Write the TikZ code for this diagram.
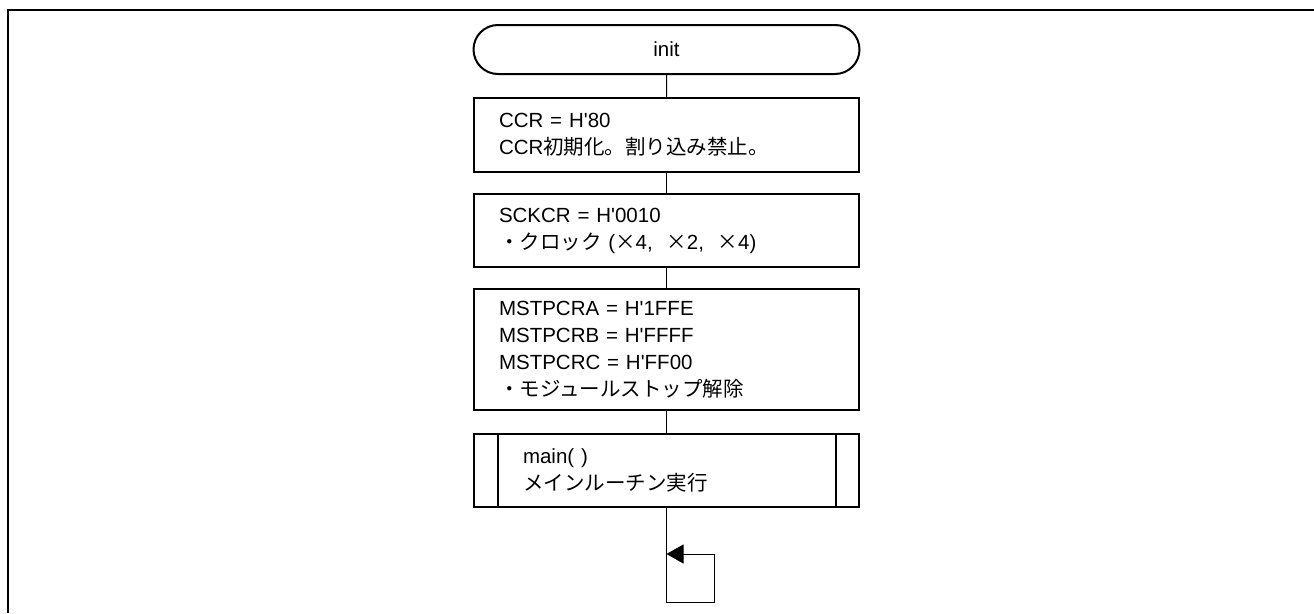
\documentclass[tikz,border=0pt]{standalone}
\usepackage{fontspec}
\setmainfont{Liberation Sans}[Ligatures=TeXOff]
\newfontfamily\jp{Noto Sans CJK JP}
\usetikzlibrary{arrows.meta,shapes.misc}
\begin{document}
\begin{tikzpicture}[x=1pt,y=-1pt,
  every node/.style={font=\fontsize{20.5}{27}\selectfont},
  term/.style={draw,line width=2pt,rounded rectangle,minimum width=386pt,minimum height=49pt,inner sep=0pt},
  procbox/.style={draw,line width=2pt,rectangle,minimum width=385pt,text width=335pt,inner xsep=25pt,inner ysep=0pt,align=left},
  subbox/.style={draw,line width=2pt,rectangle,minimum width=385pt,text width=287pt,inner xsep=49pt,inner ysep=0pt,align=left},
  conn/.style={line width=1pt},
  frameline/.style={line width=2.5pt}
]
\useasboundingbox (0,0) rectangle (1314,613);
\draw[frameline] (8,613) -- (8,10) -- (1314,10);

\node[term] (init) at (666.5,49.5) {init};
\node[procbox,minimum height=74pt] (b1) at (666.5,135) {CCR = H'80\\CCR{\jp 初期化。割り込み禁止。}};
\node[procbox,minimum height=73pt] (b2) at (666.5,230.5) {SCKCR = H'0010\\{\jp ・クロック} ({\jp ×}4,\ \ {\jp ×}2,\ \ {\jp ×}4)};
\node[procbox,minimum height=121pt] (b3) at (666.5,349.5) {MSTPCRA = H'1FFE\\MSTPCRB = H'FFFF\\MSTPCRC = H'FF00\\{\jp ・モジュールストップ解除}};
\node[subbox,minimum height=73pt] (b4) at (666.5,470.5) {main( )\\{\jp メインルーチン実行}};
\draw[line width=2pt] ([xshift=25pt]b4.north west) -- ([xshift=25pt]b4.south west);
\draw[line width=2pt] ([xshift=-24pt]b4.north east) -- ([xshift=-24pt]b4.south east);

\draw[conn] (init) -- (b1);
\draw[conn] (b1) -- (b2);
\draw[conn] (b2) -- (b3);
\draw[conn] (b3) -- (b4);

\coordinate (lb) at (666.5,602);
\coordinate (lr) at (714,554);
\coordinate (lt) at (666.5,554);
\draw[conn,-{Triangle[length=17pt,width=19pt]}] (b4.south) -- (lb) -| (lr) -- (lt);
\end{tikzpicture}
\end{document}
